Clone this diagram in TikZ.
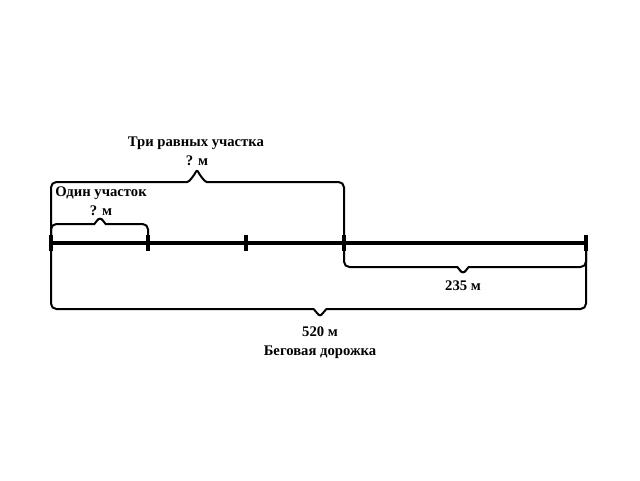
\documentclass[tikz,border=0pt]{standalone}
\usepackage{fontspec}
\setmainfont{Liberation Serif}
\newcommand{\legbrace}[6]{% left, right, bar y, tip x, tip offset, tip half width
  \draw[brk] (#1) -- (#1 |- 0,#3) -- ({#4-#6},#3)
    .. controls ({#4-#6/2},#3) and ({#4-2},{#3+#5*0.6}) .. (#4,{#3+#5})
    .. controls ({#4+2},{#3+#5*0.6}) and ({#4+#6/2},#3) .. ({#4+#6},#3)
    -- (#2 |- 0,#3) -- (#2);}

\begin{document}
\begin{tikzpicture}[x=0.75pt,y=-0.75pt,
  track/.style={line width=2.4pt},
  tick/.style={line width=2.4pt},
  brk/.style={line width=1.5pt,rounded corners=4pt},
  lbl/.style={font=\bfseries\fontsize{11}{13}\selectfont,inner sep=0pt}]
  \useasboundingbox (0,0) rectangle (640,480);
  % track and its marks
  \coordinate (A) at (51, 243);
  \coordinate (B) at (148, 243);
  \coordinate (C) at (246, 243);
  \coordinate (D) at (344, 243);
  \coordinate (E) at (586, 243);
  \draw[track] (A) -- (E);
  \foreach \p in {A,B,C,D,E}
    \draw[tick] ([yshift=-6]\p) -- ([yshift=6]\p);
  % braces
  \legbrace{A}{D}{182}{197}{-14}{15}
  \legbrace{A}{B}{224}{100}{-8}{11}
  \legbrace{D}{E}{267}{463}{8}{11}
  \legbrace{A}{E}{309}{320}{9}{12}
  % labels
  \node[lbl] (three) at (196, 143) {Три равных участка};
  \node[lbl] (threeq) at (197, 161) {? м};
  \node[lbl] (one) at (101, 193) {Один участок};
  \node[lbl] (oneq) at (101, 211) {? м};
  \node[lbl] (part) at (463, 286) {235 м};
  \node[lbl] (total) at (320, 332) {520 м};
  \node[lbl] (name) at (320, 352) {Беговая дорожка};
\end{tikzpicture}
\end{document}
